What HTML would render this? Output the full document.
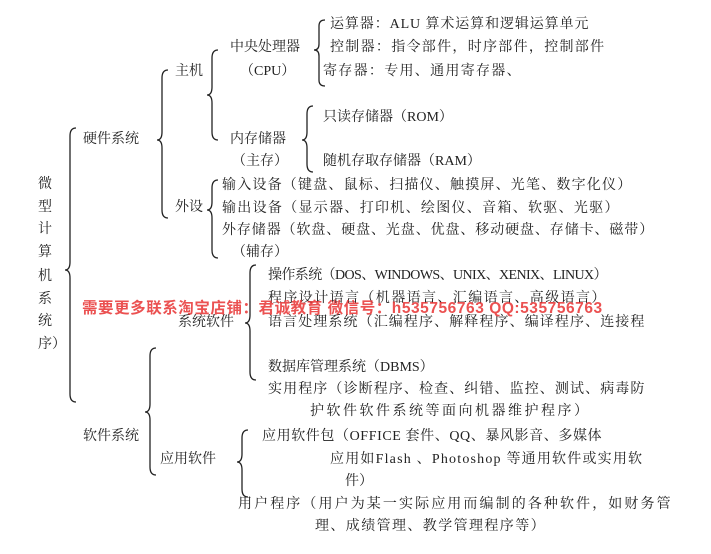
<!DOCTYPE html>
<html><head><meta charset="utf-8"><style>
body{margin:0;width:711px;height:554px;background:#fff;position:relative;overflow:hidden;font-family:"Liberation Serif","Noto Serif CJK SC",serif;font-size:14px;color:#222}
.t{position:absolute;white-space:nowrap;line-height:16px}
svg{position:absolute;left:0;top:0}
.wm{position:absolute;left:82px;top:300px;white-space:nowrap;font-family:"Liberation Sans","Noto Sans CJK SC",sans-serif;font-weight:bold;font-size:15.5px;letter-spacing:0.55px;color:rgba(232,50,50,0.85);line-height:18px}
</style></head><body>
<svg width="711" height="554" fill="none" stroke="#222" stroke-width="1.3">
<path d="M76,128 Q70,128 70,136 L70,262 Q70,270 65,270 Q70,270 70,278 L70,394 Q70,402 76,402"/>
<path d="M168,70 Q162,70 162,78 L162,132 Q162,140 157,140 Q162,140 162,148 L162,210 Q162,218 168,218"/>
<path d="M218,50 Q212,50 212,58 L212,87 Q212,95 207,95 Q212,95 212,103 L212,132 Q212,140 218,140"/>
<path d="M325,20 Q319,20 319,26 L319,44 Q319,50 314,50 Q319,50 319,56 L319,80 Q319,86 325,86"/>
<path d="M313,106 Q307,106 307,114 L307,132 Q307,140 302,140 Q307,140 307,148 L307,164 Q307,172 313,172"/>
<path d="M218,180 Q212,180 212,188 L212,202 Q212,210 207,210 Q212,210 212,218 L212,250 Q212,258 218,258"/>
<path d="M256,265 Q250,265 250,273 L250,315 Q250,323 245,323 Q250,323 250,331 L250,372 Q250,380 256,380"/>
<path d="M156,348 Q150,348 150,356 L150,404 Q150,412 145,412 Q150,412 150,420 L150,467 Q150,475 156,475"/>
<path d="M248,430 Q242,430 242,438 L242,454 Q242,462 237,462 Q242,462 242,470 L242,489 Q242,497 248,497"/>
</svg>
<div class="t" style="left:38px;top:177px">微</div>
<div class="t" style="left:38px;top:200px">型</div>
<div class="t" style="left:38px;top:222px">计</div>
<div class="t" style="left:38px;top:245px">算</div>
<div class="t" style="left:38px;top:269px">机</div>
<div class="t" style="left:38px;top:292px">系</div>
<div class="t" style="left:38px;top:314px">统</div>
<div class="t" style="left:38px;top:337px">序）</div>
<div class="t" style="left:83px;top:132px">硬件系统</div>
<div class="t" style="left:175px;top:64px">主机</div>
<div class="t" style="left:175px;top:200px">外设</div>
<div class="t" style="left:230px;top:40px">中央处理器</div>
<div class="t" style="left:240px;top:64px">（CPU）</div>
<div class="t" style="left:230px;top:132px">内存储器</div>
<div class="t" style="left:232px;top:154px">（主存）</div>
<div class="t" style="left:330px;top:17px;letter-spacing:0.9px">运算器：ALU 算术运算和逻辑运算单元</div>
<div class="t" style="left:330px;top:40px;letter-spacing:1.3px">控制器：指令部件，时序部件，控制部件</div>
<div class="t" style="left:323px;top:64px;letter-spacing:1.3px">寄存器：专用、通用寄存器、</div>
<div class="t" style="left:323px;top:110px">只读存储器（ROM）</div>
<div class="t" style="left:323px;top:154px">随机存取存储器（RAM）</div>
<div class="t" style="left:222px;top:178px;letter-spacing:1.2px">输入设备（键盘、鼠标、扫描仪、触摸屏、光笔、数字化仪）</div>
<div class="t" style="left:222px;top:201px;letter-spacing:1.3px">输出设备（显示器、打印机、绘图仪、音箱、软驱、光驱）</div>
<div class="t" style="left:222px;top:223px;letter-spacing:0.9px">外存储器（软盘、硬盘、光盘、优盘、移动硬盘、存储卡、磁带）</div>
<div class="t" style="left:232px;top:245px">（辅存）</div>
<div class="t" style="left:268px;top:268px;letter-spacing:-0.6px">操作系统（DOS、WINDOWS、UNIX、XENIX、LINUX）</div>
<div class="t" style="left:268px;top:291px;letter-spacing:1.4px">程序设计语言（机器语言、汇编语言、高级语言）</div>
<div class="t" style="left:178px;top:315px">系统软件</div>
<div class="t" style="left:268px;top:315px;letter-spacing:1.1px">语言处理系统（汇编程序、解释程序、编译程序、连接程</div>
<div class="t" style="left:268px;top:360px">数据库管理系统（DBMS）</div>
<div class="t" style="left:268px;top:382px;letter-spacing:1.1px">实用程序（诊断程序、检查、纠错、监控、测试、病毒防</div>
<div class="t" style="left:310px;top:404px;letter-spacing:2.5px">护软件软件系统等面向机器维护程序）</div>
<div class="t" style="left:83px;top:429px">软件系统</div>
<div class="t" style="left:160px;top:452px">应用软件</div>
<div class="t" style="left:262px;top:429px;letter-spacing:0.6px">应用软件包（OFFICE 套件、QQ、暴风影音、多媒体</div>
<div class="t" style="left:330px;top:452px;letter-spacing:1.2px">应用如Flash 、Photoshop 等通用软件或实用软</div>
<div class="t" style="left:345px;top:474px">件）</div>
<div class="t" style="left:238px;top:497px;letter-spacing:2.1px">用户程序（用户为某一实际应用而编制的各种软件，如财务管</div>
<div class="t" style="left:315px;top:519px;letter-spacing:1.4px">理、成绩管理、教学管理程序等）</div>
<div class="wm">需要更多联系淘宝店铺：君诚教育  微信号：h535756763  QQ:535756763</div>
</body></html>
